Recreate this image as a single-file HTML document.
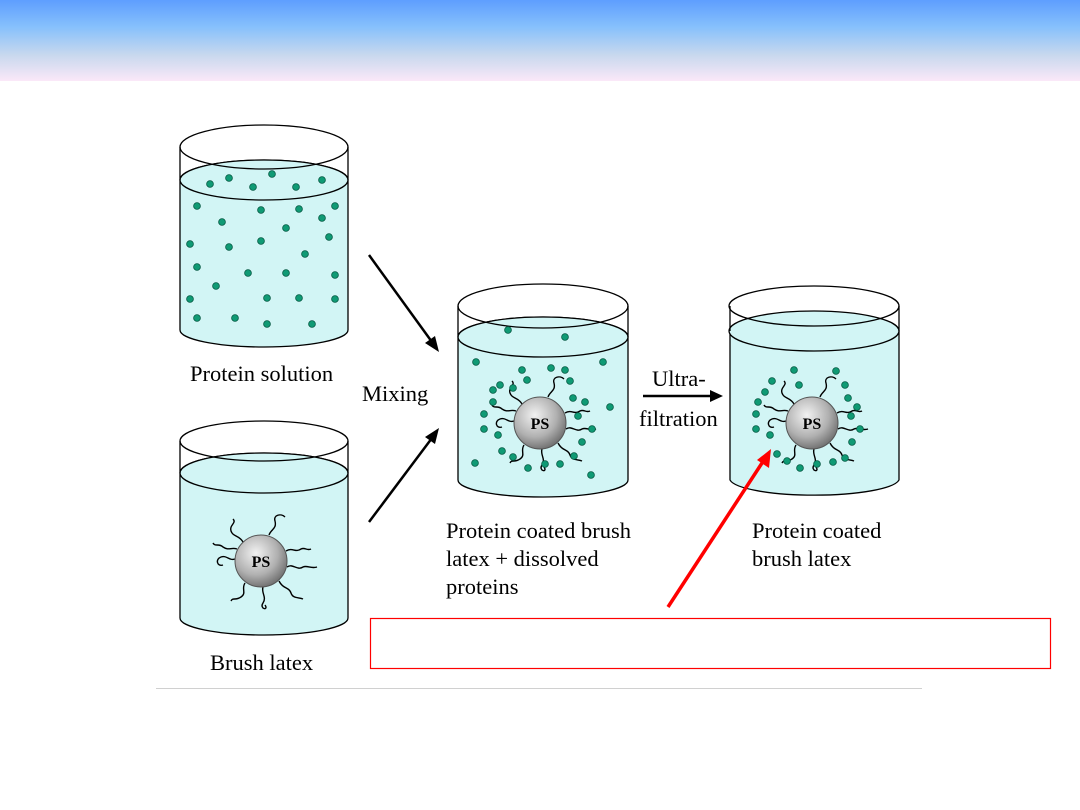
<!DOCTYPE html>
<html><head><meta charset="utf-8"><style>
html,body{margin:0;padding:0;background:#fff;}
body{width:1080px;height:810px;position:relative;overflow:hidden;}
.hdr{position:absolute;left:0;top:0;width:1080px;height:81px;background:linear-gradient(to bottom,#5e9eff 0%,#86c0fc 33%,#c8d8ee 68%,#fbe8f8 100%);}
svg{position:absolute;left:0;top:0;}
text{font-family:"Liberation Serif",serif;fill:#000;}
</style></head><body>
<div class="hdr"></div>
<svg width="1080" height="810" viewBox="0 0 1080 810">
<defs>
<radialGradient id="ps" cx="0.4" cy="0.35" r="0.7">
<stop offset="0" stop-color="#f2f2f2"/><stop offset="0.6" stop-color="#b0b0b0"/><stop offset="1" stop-color="#6a6a6a"/>
</radialGradient>
<g id="brush" fill="none" stroke="#000" stroke-width="1.4">
<path d="M-18,-19 C-22,-26 -28,-24 -30,-30 C-32,-36 -24,-38 -28,-42"/>
<path d="M8,-26 C10,-32 16,-32 14,-40 C12,-46 20,-48 24,-44"/>
<path d="M25,-10 C32,-14 34,-8 40,-12 C44,-14 46,-10 50,-12"/>
<path d="M26,6 C32,2 36,10 42,6 C46,4 50,8 56,6"/>
<path d="M18,20 C22,28 28,26 30,32 C32,38 38,36 42,38"/>
<path d="M2,26 C0,32 6,36 2,42 C-2,48 8,50 4,44"/>
<path d="M-16,22 C-20,28 -14,32 -20,36 C-26,40 -28,36 -30,40"/>
<path d="M-26,-2 C-32,0 -34,-6 -40,-4 C-46,-2 -44,6 -38,4"/>
<path d="M-24,-12 C-30,-14 -32,-10 -38,-14 C-42,-18 -46,-14 -48,-18"/>
</g>
<circle id="d" r="3.4" fill="#0f9a74" stroke="#075a44" stroke-width="0.8"/>
</defs>

<!-- Beaker 1 -->
<g stroke="#000" stroke-width="1.3">
<path d="M180,180 L180,330 A84,17 0 0 0 348,330 L348,180 A84,20 0 0 0 180,180 Z" fill="#d2f5f5"/>
<ellipse cx="264" cy="180" rx="84" ry="20" fill="#d2f5f5"/>
<path d="M180,147 L180,180 M348,147 L348,180" fill="none"/>
<ellipse cx="264" cy="147" rx="84" ry="22" fill="none"/>
</g>
<g>
<use href="#d" x="210" y="184"/><use href="#d" x="229" y="178"/><use href="#d" x="272" y="174"/><use href="#d" x="253" y="187"/><use href="#d" x="296" y="187"/><use href="#d" x="322" y="180"/>
<use href="#d" x="197" y="206"/><use href="#d" x="261" y="210"/><use href="#d" x="299" y="209"/><use href="#d" x="335" y="206"/><use href="#d" x="322" y="218"/><use href="#d" x="222" y="222"/><use href="#d" x="286" y="228"/><use href="#d" x="329" y="237"/>
<use href="#d" x="190" y="244"/><use href="#d" x="229" y="247"/><use href="#d" x="261" y="241"/><use href="#d" x="305" y="254"/><use href="#d" x="197" y="267"/><use href="#d" x="248" y="273"/><use href="#d" x="286" y="273"/><use href="#d" x="335" y="275"/>
<use href="#d" x="216" y="286"/><use href="#d" x="190" y="299"/><use href="#d" x="267" y="298"/><use href="#d" x="299" y="298"/><use href="#d" x="335" y="299"/><use href="#d" x="197" y="318"/><use href="#d" x="235" y="318"/><use href="#d" x="267" y="324"/><use href="#d" x="312" y="324"/>
</g>
<text x="190" y="381" font-size="22.5">Protein solution</text>

<!-- Beaker 2 -->
<g stroke="#000" stroke-width="1.3">
<path d="M180,473 L180,618 A84,17 0 0 0 348,618 L348,473 A84,20 0 0 0 180,473 Z" fill="#d2f5f5"/>
<ellipse cx="264" cy="473" rx="84" ry="20" fill="#d2f5f5"/>
<path d="M180,441 L180,473 M348,441 L348,473" fill="none"/>
<ellipse cx="264" cy="441" rx="84" ry="20" fill="none"/>
</g>
<use href="#brush" x="261" y="561"/>
<circle cx="261" cy="561" r="26" fill="url(#ps)" stroke="#555" stroke-width="1"/>
<text x="261" y="567" font-size="16" font-weight="bold" text-anchor="middle">PS</text>
<text x="210" y="670" font-size="22.5">Brush latex</text>

<!-- arrows -->
<g stroke="#000" stroke-width="2.5" fill="#000">
<line x1="369" y1="255" x2="432" y2="342"/>
<polygon points="439,352 425,343 435,336" stroke="none"/>
<line x1="369" y1="522" x2="432" y2="438"/>
<polygon points="439,428 435,444 425,437" stroke="none"/>
<line x1="643" y1="396" x2="712" y2="396"/>
<polygon points="723,396 710,390 710,402" stroke="none"/>
</g>
<text x="362" y="401" font-size="22.5">Mixing</text>
<text x="652" y="386" font-size="22.5">Ultra-</text>
<text x="639" y="426" font-size="22.5">filtration</text>

<!-- Beaker 3 -->
<g stroke="#000" stroke-width="1.3">
<path d="M458,337 L458,480 A85,17 0 0 0 628,480 L628,337 A85,20 0 0 0 458,337 Z" fill="#d2f5f5"/>
<ellipse cx="543" cy="337" rx="85" ry="20" fill="#d2f5f5"/>
<path d="M458,306 L458,337 M628,306 L628,337" fill="none"/>
<ellipse cx="543" cy="306" rx="85" ry="22" fill="none"/>
</g>
<use href="#brush" x="540" y="423"/>
<circle cx="540" cy="423" r="26" fill="url(#ps)" stroke="#555" stroke-width="1"/>
<text x="540" y="429" font-size="16" font-weight="bold" text-anchor="middle">PS</text>
<g>
<use href="#d" x="508" y="330"/><use href="#d" x="565" y="337"/><use href="#d" x="476" y="362"/><use href="#d" x="603" y="362"/>
<use href="#d" x="522" y="370"/><use href="#d" x="551" y="368"/><use href="#d" x="565" y="370"/><use href="#d" x="570" y="381"/><use href="#d" x="500" y="385"/><use href="#d" x="527" y="380"/><use href="#d" x="513" y="388"/>
<use href="#d" x="493" y="390"/><use href="#d" x="493" y="402"/><use href="#d" x="573" y="398"/><use href="#d" x="585" y="402"/><use href="#d" x="610" y="407"/><use href="#d" x="578" y="416"/><use href="#d" x="484" y="414"/>
<use href="#d" x="484" y="429"/><use href="#d" x="498" y="435"/><use href="#d" x="592" y="429"/><use href="#d" x="582" y="442"/><use href="#d" x="502" y="451"/><use href="#d" x="513" y="457"/>
<use href="#d" x="475" y="463"/><use href="#d" x="528" y="468"/><use href="#d" x="545" y="464"/><use href="#d" x="560" y="464"/><use href="#d" x="574" y="456"/><use href="#d" x="591" y="475"/>
</g>
<text x="446" y="538" font-size="22.5">Protein coated brush</text>
<text x="446" y="566" font-size="22.5">latex + dissolved</text>
<text x="446" y="594" font-size="22.5">proteins</text>

<!-- Beaker 4 -->
<g stroke="#000" stroke-width="1.3">
<path d="M730,331 L730,480 A85,17 0 0 0 899,480 L899,331 A85,20 0 0 0 730,331 Z" fill="#d2f5f5"/>
<ellipse cx="814" cy="331" rx="85" ry="20" fill="#d2f5f5"/>
<path d="M730,306 L730,331 M899,306 L899,331" fill="none"/>
<ellipse cx="814" cy="306" rx="85" ry="20" fill="none"/>
</g>
<use href="#brush" x="812" y="423"/>
<circle cx="812" cy="423" r="26" fill="url(#ps)" stroke="#555" stroke-width="1"/>
<text x="812" y="429" font-size="16" font-weight="bold" text-anchor="middle">PS</text>
<g>
<use href="#d" x="794" y="370"/><use href="#d" x="836" y="371"/><use href="#d" x="772" y="381"/><use href="#d" x="799" y="385"/><use href="#d" x="845" y="385"/>
<use href="#d" x="765" y="392"/><use href="#d" x="758" y="402"/><use href="#d" x="848" y="398"/><use href="#d" x="857" y="407"/><use href="#d" x="851" y="416"/><use href="#d" x="756" y="414"/>
<use href="#d" x="756" y="429"/><use href="#d" x="770" y="435"/><use href="#d" x="860" y="429"/><use href="#d" x="852" y="442"/><use href="#d" x="777" y="454"/><use href="#d" x="787" y="461"/><use href="#d" x="800" y="468"/><use href="#d" x="817" y="464"/><use href="#d" x="833" y="462"/><use href="#d" x="845" y="458"/>
</g>
<text x="752" y="538" font-size="22.5">Protein coated</text>
<text x="752" y="566" font-size="22.5">brush latex</text>

<!-- red arrow & box -->
<line x1="668" y1="607" x2="764" y2="460" stroke="#ff0000" stroke-width="3.5"/>
<polygon points="771,449 769,468 757,460" fill="#ff0000"/>
<rect x="370.5" y="618.5" width="680" height="50" fill="none" stroke="#ff0000" stroke-width="1.2"/>
<line x1="156" y1="688.5" x2="922" y2="688.5" stroke="#d0d0d0" stroke-width="1"/>
</svg>
</body></html>
